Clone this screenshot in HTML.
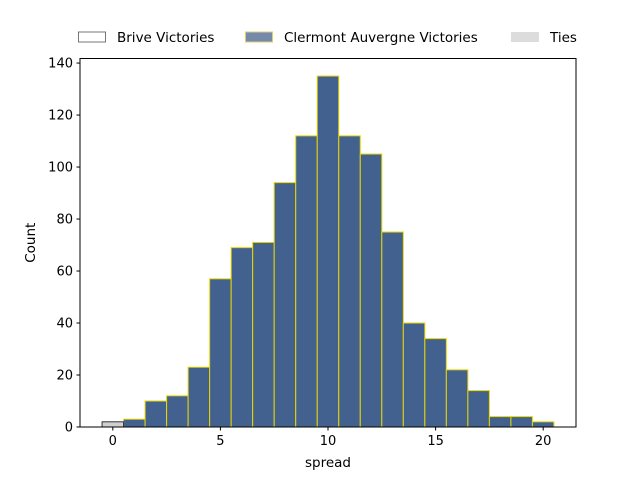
<!DOCTYPE html>
<html><head><meta charset="utf-8"><style>
body{margin:0;background:#fff}
svg{display:block;font-family:"DejaVu Sans","Liberation Sans",sans-serif}
</style></head><body>
<svg id="chart" width="640" height="480">
  <g id="legend" font-size="13.5">
    <g><rect x="78.5" y="32" width="27" height="10" fill="#fff" stroke="#777"/><text x="117" y="42">Brive Victories</text></g>
    <g><rect x="245.5" y="32" width="27" height="10" fill="#7589aa" stroke="#d8d070"/><text x="284" y="42">Clermont Auvergne Victories</text></g>
    <g><rect x="511" y="32" width="28" height="10" fill="#dcdcdc"/><text x="550" y="42">Ties</text></g>
  </g>
  <g id="bars"></g>
  <g id="axes"></g>
</svg>
<script>
const categories = [1,2,3,4,5,6,7,8,9,10,11,12,13,14,15,16,17,18,19,20];
const clermontCounts = [3,10,12,23,57,69,71,94,112,135,112,105,75,40,34,22,14,4,4,2];
const tieCategories = [0];
const tieCounts = [2];
const xTicks = [0,5,10,15,20];
const yTicks = [0,20,40,60,80,100,120,140];

const L=80,R=576,T=58.5,B=427;
const xMin=-1.525,xMax=21.525,yMax=141.75;
const xs=v=>L+(v-xMin)/(xMax-xMin)*(R-L);
const ys=v=>B-v/yMax*(B-T);
const NS='http://www.w3.org/2000/svg';
function mk(tag,attrs,parent){const e=document.createElementNS(NS,tag);for(const k in attrs)e.setAttribute(k,attrs[k]);parent.appendChild(e);return e;}
const bars=document.getElementById('bars'),axes=document.getElementById('axes');

categories.forEach((c,i)=>{
  const r=mk('rect',{x:xs(c-0.5),y:ys(clermontCounts[i]),width:xs(c+0.5)-xs(c-0.5),height:B-ys(clermontCounts[i]),fill:'#43618f',stroke:'#e6d800','stroke-width':1},bars);
  
  
});
tieCategories.forEach((c,i)=>{
  const r=mk('rect',{x:xs(c-0.5),y:ys(tieCounts[i]),width:xs(c+0.5)-xs(c-0.5),height:B-ys(tieCounts[i]),fill:'#d0d0d0',stroke:'#333','stroke-width':1},bars);
  
  
});

const frame=mk('rect',{x:L,y:T,width:R-L,height:B-T,fill:'none',stroke:'#000','stroke-width':1},axes);



xTicks.forEach(t=>{
  const x=xs(t);
  mk('line',{x1:x,x2:x,y1:B,y2:B+3.5,stroke:'#000'},axes);
  const tx=mk('text',{x:x,y:B+18,'text-anchor':'middle','font-size':13},axes);
  tx.textContent=t;
  
  
});
yTicks.forEach(t=>{
  const y=ys(t);
  mk('line',{x1:L-3.5,x2:L,y1:y,y2:y,stroke:'#000'},axes);
  const tx=mk('text',{x:L-7,y:y+4.5,'text-anchor':'end','font-size':13},axes);
  tx.textContent=t;
  
  
});
const xl=mk('text',{x:(L+R)/2,y:467,'text-anchor':'middle','font-size':13.5},axes);
xl.textContent='spread';


const yl=mk('text',{x:0,y:0,'text-anchor':'middle','font-size':13.5,transform:'translate(35,'+((T+B)/2)+') rotate(-90)'},axes);
yl.textContent='Count';


</script>
</body></html>
